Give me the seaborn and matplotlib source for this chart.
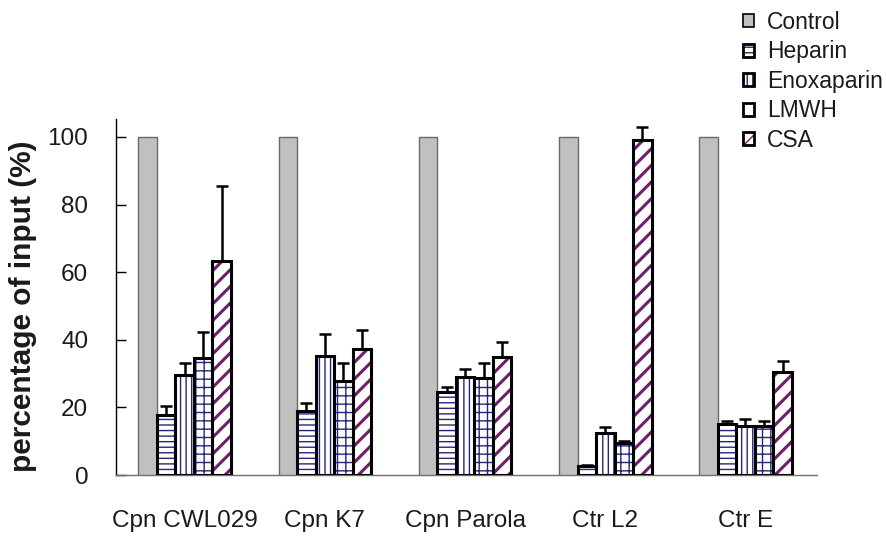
import matplotlib
matplotlib.use("Agg")
import matplotlib.pyplot as plt
import matplotlib.colors as mcolors
from matplotlib.patches import Patch
import numpy as np
import pandas as pd
import seaborn as sns

strains = ["Cpn CWL029", "Cpn K7", "Cpn Parola", "Ctr L2", "Ctr E"]
treatments = ["Control", "Heparin", "Enoxaparin", "LMWH", "CSA"]

control = [100, 100, 100, 100, 100]
heparin = [17.8, 19.0, 24.5, 2.8, 15.0]
enoxaparin = [29.6, 35.3, 29.1, 12.5, 14.5]
lmwh = [34.5, 27.8, 28.8, 9.4, 14.5]
csa = [63.4, 37.3, 34.8, 99.2, 30.6]

heparin_err = [2.6, 2.2, 1.4, 0.3, 1.0]
enoxaparin_err = [3.5, 6.4, 2.4, 1.6, 2.0]
lmwh_err = [7.7, 5.3, 4.3, 0.8, 1.5]
csa_err = [22.2, 5.6, 4.5, 3.7, 3.2]

y_ticks = [0, 20, 40, 60, 80, 100]

series = {"Control": control, "Heparin": heparin, "Enoxaparin": enoxaparin,
          "LMWH": lmwh, "CSA": csa}
errors = {"Heparin": heparin_err, "Enoxaparin": enoxaparin_err,
          "LMWH": lmwh_err, "CSA": csa_err}

rows = []
for t in treatments:
    for s, v in zip(strains, series[t]):
        rows.append({"strain": s, "treatment": t, "value": v})
df = pd.DataFrame(rows)

sns.set_theme(style="white")
plt.rcParams["font.family"] = ["Liberation Sans", "DejaVu Sans"]
plt.rcParams["hatch.linewidth"] = 1.0

TEXT = "#1a1a1a"
NAVY = "#26267a"
PURPLE = "#6e1f6a"

styles = {
    "Control": dict(face="#c0c0c0", edge="#6a6a6a", lw=1.0, hatch=None, hc=None, lhatch=None),
    "Heparin": dict(face="white", edge="black", lw=2.2, hatch="---", hc=NAVY, lhatch="---"),
    "Enoxaparin": dict(face="white", edge="black", lw=2.2, hatch="|||", hc=NAVY, lhatch="|||"),
    "LMWH": dict(face="white", edge="black", lw=2.2, hatch="++", hc=NAVY, lhatch=None),
    "CSA": dict(face="white", edge="black", lw=2.2, hatch="//", hc=PURPLE, lhatch="///"),
}

fig = plt.figure(figsize=(8.87, 5.42), dpi=100)
ax = fig.add_axes([116 / 887, 1 - 475 / 542, (817 - 116) / 887, (475 - 119) / 542])

sns.barplot(data=df, x="strain", y="value", hue="treatment", order=strains,
            hue_order=treatments, width=0.66, errorbar=None, ax=ax,
            legend=False, saturation=1)


def style_patch(p, st, hatch):
    p.set_facecolor(st["face"])
    p.set_edgecolor(st["edge"])
    p.set_linewidth(st["lw"])
    if hatch:
        p.set_hatch(hatch)
        if hasattr(p, "set_hatchcolor"):
            p.set_hatchcolor(st["hc"])
        else:
            p._hatch_color = mcolors.to_rgba(st["hc"])
        lw = 2.2 if st["hc"] == PURPLE else 1.0
        if hasattr(p, "set_hatch_linewidth"):
            p.set_hatch_linewidth(lw)
        else:
            p._hatch_linewidth = lw


for t, cont in zip(treatments, ax.containers):
    st = styles[t]
    for bar in cont:
        style_patch(bar, st, st["hatch"])
        bar.set_zorder(3)
    if t in errors:
        xs = [b.get_x() + b.get_width() / 2 for b in cont]
        ys = [b.get_height() for b in cont]
        err = errors[t]
        ax.errorbar(xs, ys, yerr=[np.zeros(len(err)), err], fmt="none",
                    ecolor="black", elinewidth=1.8, capsize=4.2, capthick=1.8,
                    zorder=2)

ax.set_xlim(-0.49, 4.51)
ax.set_ylim(0, 105.3)
ax.set_yticks(y_ticks)
ax.set_yticklabels([str(v) for v in y_ticks])
ax.set_xlabel("")
ax.set_ylabel("percentage of input (%)", fontsize=21.5, fontweight="bold", color=TEXT)
ax.yaxis.set_label_coords(-0.112, 0.473)

ax.tick_params(axis="y", direction="in", length=7, width=1.0, color="black",
               pad=20, labelsize=17.5, labelcolor=TEXT, left=True)
ax.tick_params(axis="x", length=0, pad=25, labelsize=17.5, labelcolor=TEXT)

for side in ["top", "right"]:
    ax.spines[side].set_visible(False)
ax.spines["left"].set_color("black")
ax.spines["left"].set_linewidth(1.0)
ax.spines["bottom"].set_color("#707070")
ax.spines["bottom"].set_linewidth(1.0)
ax.grid(False)

handles = []
for t in treatments:
    st = styles[t]
    h = Patch()
    style_patch(h, dict(st, lw=2.0 if t != "Control" else 1.2, edge="black"), st["lhatch"])
    handles.append(h)

fig.legend(handles, treatments, loc="upper left",
           bbox_to_anchor=(743 / 887, 1 - 11 / 542), frameon=False,
           borderpad=0, borderaxespad=0, handlelength=0.5, handleheight=0.5,
           handletextpad=0.55, labelspacing=0.28, fontsize=16.5,
           labelcolor=TEXT)

fig.savefig("out.png", dpi=100)
